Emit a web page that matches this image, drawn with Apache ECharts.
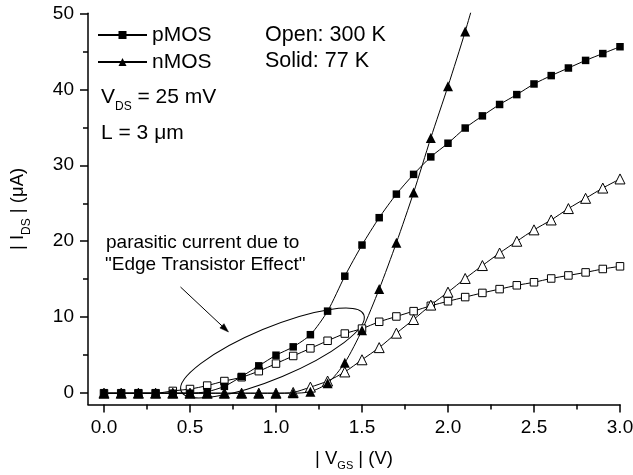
<!DOCTYPE html>
<html><head><meta charset="utf-8">
<script src="https://cdn.jsdelivr.net/npm/echarts@6/dist/echarts.min.js"></script>
<style>html,body{margin:0;padding:0;background:#fff}#c{width:633px;height:475px}</style>
</head><body><div id="c"></div>
<script>
// ---- data ----
const vgs = [0.0,0.1,0.2,0.3,0.4,0.5,0.6,0.7,0.8,0.9,1.0,1.1,1.2,1.3,1.4,1.5,1.6,1.7,1.8,1.9,2.0,2.1,2.2,2.3,2.4,2.5,2.6,2.7,2.8,2.9,3.0];
const pMOS77  = [0,0,0,0,0,0,0.2,0.9,2.2,3.6,5.0,6.1,7.7,10.8,15.4,19.5,23.1,26.2,28.8,31.1,32.9,34.9,36.5,38.0,39.3,40.7,41.8,42.8,43.8,44.7,45.6];
const pMOS300 = [0,0,0,0,0.3,0.55,1.0,1.6,2.1,2.9,3.9,4.9,5.9,6.9,7.85,8.5,9.4,10.1,10.8,11.5,12.1,12.65,13.2,13.7,14.2,14.6,15.1,15.5,15.9,16.35,16.7];
const nMOS77  = [0,0,0,0,0,0,0,0,0,0,0,0,0.2,1.3,4.0,8.3,13.7,19.8,26.4,33.6,40.4,47.6,55.5];
const nMOS300 = [0,0,0,0,0,0,0,0,0,0,0,0.1,0.8,1.6,2.8,4.4,6.0,7.9,9.7,11.6,13.3,15.1,16.8,18.45,20.0,21.5,22.8,24.3,25.65,27.0,28.2];
const xMajor = [0,0.5,1.0,1.5,2.0,2.5,3.0];
const xMinor = [0.25,0.75,1.25,1.75,2.25,2.75];
const yMajor = [0,10,20,30,40,50];
const yMinor = [5,15,25,35,45];
const legendNames = ['pMOS','nMOS'];

// ---- chart ----
const FONT = '"Liberation Sans", Arial, Helvetica, sans-serif';
const FS_TICK = 19, FS_NOTE = 19, FS_LEG = 21, FS_BIG = 21.5;
const XMIN = -0.093, XMAX = 3.0, YMIN = -1.5, YMAX = 50;
const pair = ys => ys.map((y, i) => [vgs[i], y]);
const chart = echarts.init(document.getElementById('c'), null, {renderer: 'canvas'});

const black = '#000';
function mkSeries(name, ys, symbol, size, filled) {
  return {
    name: name, type: 'line', data: pair(ys), symbol: symbol, symbolSize: size,
    smooth: 0.25,
    itemStyle: filled ? {color: black} : {color: '#fff', borderColor: black, borderWidth: 1},
    lineStyle: {color: black, width: 1},
    emphasis: {disabled: true}, silent: true, clip: true
  };
}

const axisBase = {type: 'value', splitLine: {show: false}};

// arrow geometry (annotation)
const a0 = [180.5, 287], a1 = [228.5, 332];
const adx = a1[0] - a0[0], ady = a1[1] - a0[1], aL = Math.hypot(adx, ady);
const ux = adx / aL, uy = ady / aL, hl = 9, hw = 3;
const base = [a1[0] - ux * hl, a1[1] - uy * hl];
const headL = [base[0] - uy * hw, base[1] + ux * hw];
const headR = [base[0] + uy * hw, base[1] - ux * hw];

function txt(x, y, text, fs) {
  return {
    type: 'text', x: x, y: y, silent: true,
    style: {text: text, fontSize: fs, fontFamily: FONT, fill: black,
      align: 'left', verticalAlign: 'middle', textAlign: 'left', textVerticalAlign: 'middle'}
  };
}

chart.setOption({
  animation: false,
  backgroundColor: '#fff',
  textStyle: {fontFamily: FONT, color: black},
  grid: {left: 88, right: 13, top: 13.3, bottom: 70.4, containLabel: false, outerBoundsMode: 'none'},
  legend: {
    data: legendNames, orient: 'vertical', left: 97, top: 24.5, padding: 0,
    itemWidth: 49, itemHeight: 10, itemGap: 6, selectedMode: false,
    textStyle: {fontSize: FS_LEG, color: black, fontFamily: FONT}
  },
  xAxis: [
    Object.assign({}, axisBase, {
      position: 'bottom', min: XMIN, max: XMAX,
      axisLine: {onZero: false, lineStyle: {color: black, width: 1.5}},
      axisTick: {length: 8, customValues: xMajor, lineStyle: {color: black, width: 1.5}},
      axisLabel: {customValues: xMajor, formatter: v => Number(v).toFixed(1), margin: 13.5,
        fontSize: FS_TICK, color: black, fontFamily: FONT},
      name: '| V{s|GS} | (V)', nameLocation: 'middle', nameGap: 41,
      nameTextStyle: {fontSize: 18.5, color: black, fontFamily: FONT, lineHeight: 26,
        rich: {s: {fontSize: 11, lineHeight: 11, verticalAlign: 'bottom', color: black, fontFamily: FONT}}}
    }),
    Object.assign({}, axisBase, {
      position: 'bottom', min: XMIN, max: XMAX,
      axisLine: {show: false, onZero: false},
      axisTick: {length: 5, customValues: xMinor, lineStyle: {color: black, width: 1.5}},
      axisLabel: {show: false}
    })
  ],
  yAxis: [
    Object.assign({}, axisBase, {
      position: 'left', min: YMIN, max: YMAX,
      axisLine: {onZero: false, lineStyle: {color: black, width: 1.5}},
      axisTick: {length: 8, customValues: yMajor, lineStyle: {color: black, width: 1.5}},
      axisLabel: {customValues: yMajor, margin: 14, fontSize: FS_TICK, color: black, fontFamily: FONT},
      name: '| I{s|DS} | (\u03bcA)', nameLocation: 'middle', nameGap: 55,
      nameTextStyle: {fontSize: 18.5, color: black, fontFamily: FONT, lineHeight: 30,
        rich: {s: {fontSize: 12, lineHeight: 12, verticalAlign: 'bottom', color: black, fontFamily: FONT}}}
    }),
    Object.assign({}, axisBase, {
      position: 'left', min: YMIN, max: YMAX,
      axisLine: {show: false, onZero: false},
      axisTick: {length: 5, customValues: yMinor, lineStyle: {color: black, width: 1.5}},
      axisLabel: {show: false}
    })
  ],
  series: [
    mkSeries('pMOS 300 K', pMOS300, 'rect', 7.5, false),
    mkSeries('nMOS 300 K', nMOS300, 'triangle', 10, false),
    mkSeries('pMOS', pMOS77, 'rect', 7.5, true),
    mkSeries('nMOS', nMOS77, 'triangle', 10, true)
  ],
  graphic: [
    txt(265, 35, 'Open: 300 K', FS_BIG),
    txt(265, 61, 'Solid: 77 K', FS_BIG),
    {
      type: 'text', x: 101, y: 82.5, silent: true,
      style: {
        text: '{m|V}{s|DS}{m| = 25 mV}', align: 'left', verticalAlign: 'top',
        textAlign: 'left', textVerticalAlign: 'top',
        rich: {
          m: {fontSize: 21, fontFamily: FONT, fill: black, color: black, lineHeight: 30},
          s: {fontSize: 12, fontFamily: FONT, fill: black, color: black, lineHeight: 12, verticalAlign: 'bottom'}
        }
      }
    },
    txt(101, 133.5, 'L = 3 \u03bcm', 21),
    txt(106, 242.5, 'parasitic current due to', FS_NOTE),
    txt(105, 265, '"Edge Transistor Effect"', FS_NOTE),
    {
      type: 'ellipse', x: 272.5, y: 353, rotation: 22.7 * Math.PI / 180, silent: true,
      shape: {cx: 0, cy: 0, rx: 99, ry: 25.4},
      style: {fill: 'none', stroke: black, lineWidth: 1}
    },
    {
      type: 'line', silent: true,
      shape: {x1: a0[0], y1: a0[1], x2: base[0], y2: base[1]},
      style: {stroke: black, lineWidth: 1}
    },
    {
      type: 'polygon', silent: true,
      shape: {points: [a1, headL, headR]},
      style: {fill: black, stroke: black, lineWidth: 0.5}
    }
  ]
});
</script>
</body></html>
